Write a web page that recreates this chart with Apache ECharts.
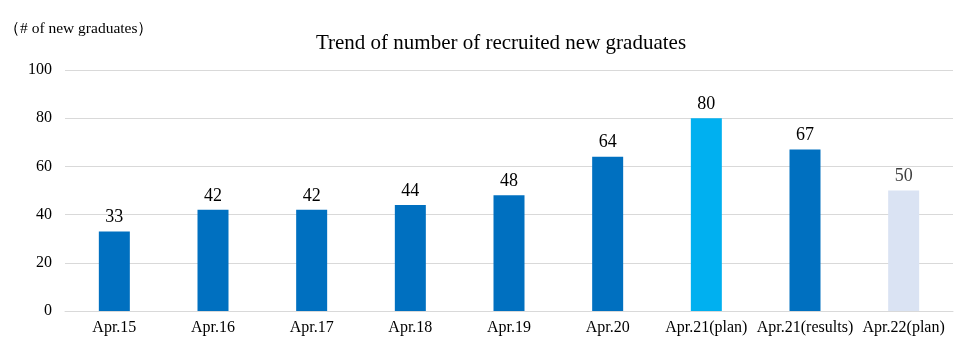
<!DOCTYPE html>
<html><head><meta charset="utf-8">
<script src="https://cdn.jsdelivr.net/npm/echarts@6/dist/echarts.min.js"></script>
<style>html,body{margin:0;padding:0;background:#fff}#c{width:980px;height:356px}</style>
</head><body><div id="c"></div>
<script>
const categories = ['Apr.15','Apr.16','Apr.17','Apr.18','Apr.19','Apr.20','Apr.21(plan)','Apr.21(results)','Apr.22(plan)'];
const values = [33,42,42,44,48,64,80,67,50];
const barColors = ['#0070C0','#0070C0','#0070C0','#0070C0','#0070C0','#0070C0','#00B0F0','#0070C0','#DAE3F3'];
const labelColors = ['#000','#000','#000','#000','#000','#000','#000','#000','#404040'];
const yTicks = [0,20,40,60,80,100];
const font = '"Liberation Serif","Times New Roman",serif';
const chart = echarts.init(document.getElementById('c'));
chart.setOption({
  animation:false,
  title:[{text:'Trend of number of recruited new graduates',left:496,textAlign:'center',top:28,
    textStyle:{fontFamily:font,fontSize:21,fontWeight:'normal',color:'#000'}},
    {text:'（# of new graduates）',left:-1,top:16,textStyle:{fontFamily:font,fontSize:15.5,fontWeight:'normal',color:'#000'}}],
  grid:{left:65,right:27,top:70,bottom:45},
  xAxis:{type:'category',data:categories,
    axisLine:{lineStyle:{color:'#D9D9D9',width:1}},axisTick:{show:false},
    axisLabel:{interval:0,fontFamily:font,fontSize:16,color:'#000',margin:9}},
  yAxis:{type:'value',min:yTicks[0],max:yTicks[yTicks.length-1],interval:20,
    axisLine:{show:false},axisTick:{show:false},
    splitLine:{lineStyle:{color:'#D9D9D9'}},
    axisLabel:{fontFamily:font,fontSize:16,color:'#000',margin:13}},
  series:[{type:'bar',barWidth:31,
    data:values.map((v,i)=>({value:v,itemStyle:{color:barColors[i]},label:{color:labelColors[i]}})),
    label:{show:true,position:'top',distance:5,fontFamily:font,fontSize:18,color:'#000'}}]
});
</script></body></html>
